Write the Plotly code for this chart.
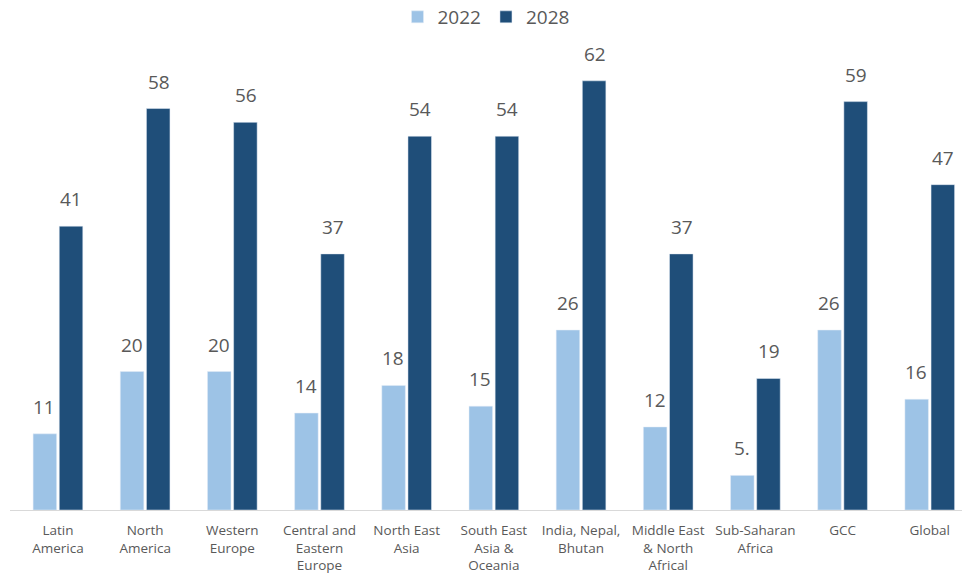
import plotly.graph_objects as go

categories = ["Latin<br>America", "North<br>America", "Western<br>Europe",
              "Central and<br>Eastern<br>Europe", "North East<br>Asia",
              "South East<br>Asia &<br>Oceania", "India, Nepal,<br>Bhutan",
              "Middle East<br>& North<br>Africal", "Sub-Saharan<br>Africa",
              "GCC", "Global"]
v2022 = [11, 20, 20, 14, 18, 15, 26, 12, 5, 26, 16]
v2028 = [41, 58, 56, 37, 54, 54, 62, 37, 19, 59, 47]
t2022 = ["11", "20", "20", "14", "18", "15", "26", "12", "5.", "26", "16"]
t2028 = [str(v) for v in v2028]

LIGHT = "#9DC3E6"
DARK = "#1F4E79"
GRAY = "#595959"
FONT = "Open Sans"

fig = go.Figure()
fig.add_trace(go.Bar(name="2022", x=categories, y=v2022, marker_color=LIGHT))
fig.add_trace(go.Bar(name="2028", x=categories, y=v2028, marker_color=DARK))

# value labels above bars (placed in data coordinates)
annotations = []
for vals, texts, shift in ((v2022, t2022, -13.5), (v2028, t2028, 13.5)):
    for c, v, t in zip(categories, vals, texts):
        annotations.append(dict(x=c, y=v, xref="x", yref="y", text=t,
                                showarrow=False, xshift=shift, yshift=12,
                                yanchor="bottom",
                                font=dict(size=19, color=GRAY, family=FONT)))

fig.update_layout(
    width=962, height=579,
    margin=dict(l=10, r=0, t=40, b=69),
    paper_bgcolor="white", plot_bgcolor="white",
    barmode="group", bargap=0.4, bargroupgap=0.1,
    font=dict(family=FONT, color=GRAY),
    legend=dict(orientation="h", x=0.5, xanchor="center",
                y=1 - 17 / 579, yanchor="middle", yref="container",
                font=dict(size=19, color=GRAY), traceorder="normal"),
    xaxis=dict(range=[-0.55, 10.37], showline=True, linecolor="#D9D9D9", linewidth=1,
               tickfont=dict(size=13.5, color=GRAY), ticks="", showgrid=False,
               ticklabelstandoff=8),
    yaxis=dict(range=[0, 67.9], visible=False, showgrid=False),
    annotations=annotations,
)
fig.write_html("out.html")
